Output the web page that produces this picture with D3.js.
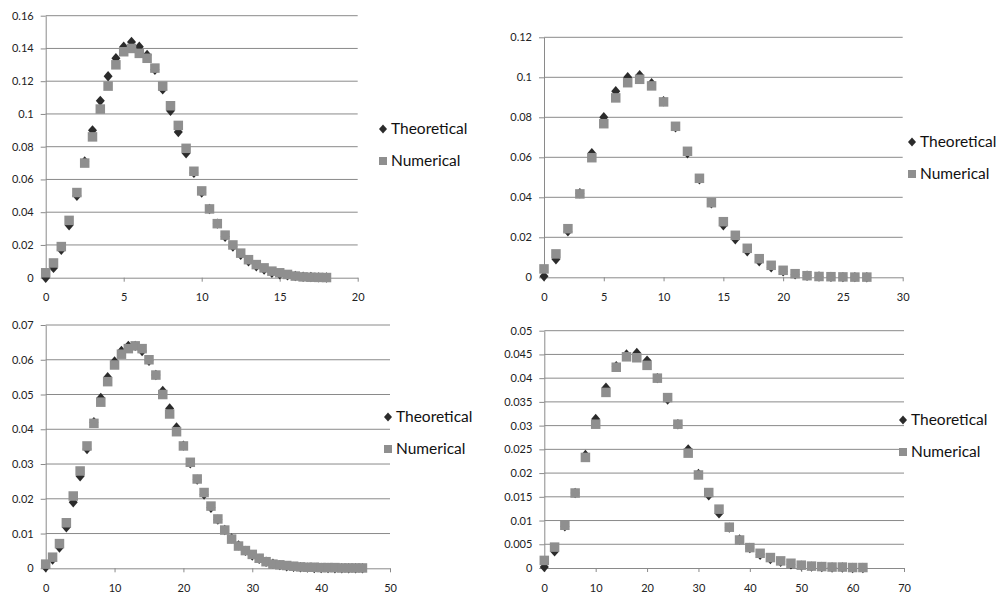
<!DOCTYPE html>
<html>
<head>
<meta charset="utf-8">
<script src="https://cdn.jsdelivr.net/npm/d3@7"></script>
<style>
  body { margin: 0; background: #fff; }
  .tick text { font-family: Lato, "Open Sans", sans-serif; font-size: 11px; fill: #222; }
  .legend text { font-family: Lato, "Open Sans", sans-serif; font-size: 15.5px; fill: #111; }
</style>
</head>
<body>
<div id="chart"></div>
<script>
// panel 1: x = 0 .. 18 step 0.5
var x1 = [0,0.5,1,1.5,2,2.5,3,3.5,4,4.5,5,5.5,6,6.5,7,7.5,8,8.5,9,9.5,10,10.5,11,11.5,12,12.5,13,13.5,14,14.5,15,15.5,16,16.5,17,17.5,18];
var theo1 = [0.0,0.006,0.017,0.032,0.050,0.071,0.090,0.108,0.123,0.134,0.141,0.144,0.141,0.136,0.127,0.115,0.102,0.089,0.076,0.064,0.052,0.042,0.033,0.025,0.019,0.014,0.010,0.007,0.005,0.003,0.002,0.0015,0.001,0.0006,0.0004,0.0002,0.0001];
var num1 = [0.003,0.009,0.019,0.035,0.052,0.070,0.086,0.103,0.117,0.130,0.138,0.140,0.137,0.134,0.128,0.117,0.105,0.093,0.079,0.065,0.053,0.042,0.033,0.026,0.020,0.015,0.011,0.008,0.006,0.004,0.003,0.002,0.001,0.0005,0.0003,0.0002,0.0001];

// panel 2: x = 0 .. 27
var x2 = [0,1,2,3,4,5,6,7,8,9,10,11,12,13,14,15,16,17,18,19,20,21,22,23,24,25,26,27];
var theo2 = [0.0005,0.009,0.023,0.042,0.062,0.080,0.093,0.100,0.101,0.097,0.088,0.075,0.062,0.049,0.037,0.026,0.019,0.013,0.008,0.005,0.003,0.0015,0.0008,0.0004,0.0002,0.0001,0.0001,0.0];
var num2 = [0.0042,0.0117,0.0243,0.0417,0.0598,0.0768,0.0897,0.0973,0.099,0.0957,0.0877,0.0755,0.063,0.0495,0.0373,0.0278,0.021,0.0145,0.0093,0.006,0.0035,0.0018,0.0008,0.0004,0.0003,0.0002,0.0001,0.0001];

// panel 3: x = 0 .. 46
var x3 = [0,1,2,3,4,5,6,7,8,9,10,11,12,13,14,15,16,17,18,19,20,21,22,23,24,25,26,27,28,29,30,31,32,33,34,35,36,37,38,39,40,41,42,43,44,45,46];
var theo3 = [0.0003,0.0025,0.006,0.0118,0.019,0.0265,0.0343,0.042,0.049,0.055,0.0595,0.0625,0.064,0.064,0.0625,0.0597,0.0556,0.051,0.046,0.0405,0.0353,0.0302,0.0255,0.0212,0.0174,0.014,0.011,0.0086,0.0066,0.005,0.0037,0.0027,0.0019,0.0013,0.0009,0.0006,0.0004,0.0003,0.0002,0.0001,0.0001,0.0001,0,0,0,0,0];
var num3 = [0.0012,0.0032,0.0071,0.0131,0.0208,0.028,0.0352,0.0417,0.0478,0.0537,0.0585,0.0616,0.0632,0.064,0.0632,0.060,0.0556,0.050,0.0444,0.0393,0.0352,0.0305,0.0257,0.0218,0.0179,0.0142,0.011,0.0084,0.0064,0.0051,0.004,0.0029,0.0019,0.0012,0.001,0.0008,0.0006,0.0004,0.0003,0.0003,0.0002,0.0002,0.0002,0.0001,0.0001,0.0001,0.0001];

// panel 4: x = 0 .. 62 step 2
var x4 = [0,2,4,6,8,10,12,14,16,18,20,22,24,26,28,30,32,34,36,38,40,42,44,46,48,50,52,54,56,58,60,62];
var theo4 = [0.0002,0.0035,0.0088,0.0158,0.0238,0.0314,0.038,0.0425,0.045,0.0453,0.0437,0.040,0.0355,0.0303,0.025,0.0198,0.0153,0.0115,0.0085,0.006,0.0042,0.0028,0.0019,0.0013,0.0008,0.0005,0.0003,0.0002,0.0001,0.0001,0,0];
var num4 = [0.0016,0.0044,0.009,0.0158,0.0233,0.0303,0.037,0.0423,0.0445,0.0443,0.0427,0.040,0.0359,0.0303,0.0242,0.0196,0.0159,0.0124,0.0086,0.0059,0.0043,0.0031,0.0022,0.0015,0.001,0.0006,0.0004,0.0003,0.0002,0.0002,0.0001,0.0001];

// ticks
var xTicks1 = [0,5,10,15,20];
var yTicks1 = [0,0.02,0.04,0.06,0.08,0.1,0.12,0.14,0.16];
var xTicks2 = [0,5,10,15,20,25,30];
var yTicks2 = [0,0.02,0.04,0.06,0.08,0.1,0.12];
var xTicks3 = [0,10,20,30,40,50];
var yTicks3 = [0,0.01,0.02,0.03,0.04,0.05,0.06,0.07];
var xTicks4 = [0,10,20,30,40,50,60,70];
var yTicks4 = [0,0.005,0.01,0.015,0.02,0.025,0.03,0.035,0.04,0.045,0.05];

var seriesNames = ["Theoretical", "Numerical"];

var svgWidth = 1002;
var svgHeight = 597;
var gridColor = "#8a8a8a";
var diamondColor = "#2b2b2b";
var squareColor = "#8f8f8f";

var svg = d3.select("#chart")
  .append("svg")
  .attr("width", svgWidth)
  .attr("height", svgHeight);

var panels = [
  { xs: x1, theo: theo1, num: num1, xTicks: xTicks1, yTicks: yTicks1, left: 45.7, right: 357.7, top: 15.7, bottom: 277.7, legendX: 383, legendY: 129 },
  { xs: x2, theo: theo2, num: num2, xTicks: xTicks2, yTicks: yTicks2, left: 544, right: 902.7, top: 37.3, bottom: 277.3, legendX: 912, legendY: 142 },
  { xs: x3, theo: theo3, num: num3, xTicks: xTicks3, yTicks: yTicks3, left: 45.7, right: 390, top: 325, bottom: 568.3, legendX: 388, legendY: 417 },
  { xs: x4, theo: theo4, num: num4, xTicks: xTicks4, yTicks: yTicks4, left: 544.3, right: 904, top: 330.7, bottom: 568, legendX: 903, legendY: 420 }
];

var diamond = "M0,-5.2L4.5,0L0,5.2L-4.5,0Z";

panels.forEach(function(p) {
  var x = d3.scaleLinear()
    .domain([p.xTicks[0], p.xTicks[p.xTicks.length - 1]])
    .range([p.left, p.right]);
  var y = d3.scaleLinear()
    .domain([0, p.yTicks[p.yTicks.length - 1]])
    .range([p.bottom, p.top]);

  var g = svg.append("g");

  // horizontal gridlines
  g.selectAll("line.grid")
    .data(p.yTicks.slice(1))
    .enter()
    .append("line")
    .attr("class", "grid")
    .attr("x1", p.left)
    .attr("x2", p.right)
    .attr("y1", d => y(d))
    .attr("y2", d => y(d))
    .attr("stroke", gridColor)
    .attr("stroke-width", 1);

  // axes
  var xAxis = g.append("g")
    .attr("transform", `translate(0, ${p.bottom})`)
    .call(d3.axisBottom(x).tickValues(p.xTicks).tickSize(4).tickPadding(12).tickSizeOuter(0).tickFormat(d => String(d)));
  var yAxis = g.append("g")
    .attr("transform", `translate(${p.left}, 0)`)
    .call(d3.axisLeft(y).tickValues(p.yTicks).tickSize(5).tickPadding(7).tickSizeOuter(0).tickFormat(d => String(+d.toFixed(4))));
  [xAxis, yAxis].forEach(function(a) {
    a.select(".domain").attr("stroke", gridColor);
    a.selectAll(".tick line").attr("stroke", gridColor);
  });

  var pts = p.xs.map(function(v, i) {
    return { x: v, t: p.theo[i], n: p.num[i] };
  });

  // theoretical diamonds
  g.selectAll("path.theo")
    .data(pts)
    .enter()
    .append("path")
    .attr("class", "theo")
    .attr("d", diamond)
    .attr("transform", d => `translate(${x(d.x)}, ${y(d.t)})`)
    .attr("fill", diamondColor);

  // numerical squares
  g.selectAll("rect.num")
    .data(pts)
    .enter()
    .append("rect")
    .attr("class", "num")
    .attr("x", d => x(d.x) - 4.75)
    .attr("y", d => y(d.n) - 4.75)
    .attr("width", 9.5)
    .attr("height", 9.5)
    .attr("fill", squareColor);

  // legend
  var lg = g.append("g")
    .attr("class", "legend")
    .attr("transform", `translate(${p.legendX}, ${p.legendY})`);
  lg.append("path").attr("d", "M0,-4.5L4,0L0,4.5L-4,0Z").attr("fill", diamondColor);
  lg.append("rect").attr("x", -4).attr("y", 28).attr("width", 8).attr("height", 8).attr("fill", squareColor);
  lg.append("text").attr("x", 8).attr("y", 0).attr("dy", "0.35em").text(seriesNames[0]);
  lg.append("text").attr("x", 8).attr("y", 32).attr("dy", "0.35em").text(seriesNames[1]);
});
</script>
</body>
</html>
